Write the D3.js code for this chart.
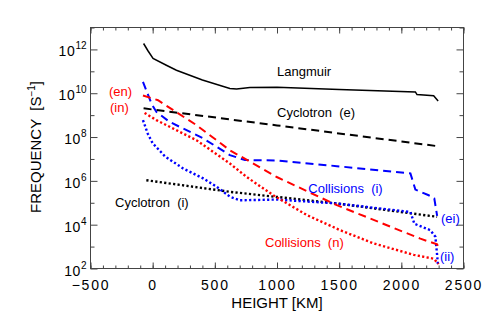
<!DOCTYPE html>
<html>
<head>
<meta charset="utf-8">
<script src="https://cdn.jsdelivr.net/npm/d3@7"></script>
<style>
body { margin: 0; background: #fff; }
svg { display: block; font-family: "Liberation Sans", Arial, sans-serif; }
.axis path { display: none; }
.axis line { stroke: #444; }
</style>
</head>
<body>
<svg id="chart" width="491" height="326"></svg>
<script>
// height [km], frequency [s^-1]
const heightMajor = [-500, 0, 500, 1000, 1500, 2000, 2500];
const heightMinor = d3.range(-500, 2501, 100);
const freqMajor = [1e2, 1e4, 1e6, 1e8, 1e10, 1e12];
const freqMinor = [1e3, 1e5, 1e7, 1e9, 1e11, 1e13];

const langmuir = [[-73, 1.86e12], [-38, 8.7e11], [3, 3.9e11], [110, 1.9e11], [191, 1.12e11],
  [400, 4.0e10], [621, 1.66e10], [675, 1.55e10], [782, 1.82e10], [1000, 1.86e10],
  [1500, 1.48e10], [2113, 1.15e10], [2126, 8.7e9], [2260, 7.6e9], [2296, 4.4e9]];
const cyclotronE = [[-73, 2.04e9], [1000, 3.4e8], [2296, 3.8e7]];
const cyclotronI = [[-51, 1.07e6], [621, 3.16e5], [1481, 9.3e4], [2288, 2.29e4]];
const collEN = [[-78, 7.9e9], [43, 4.8e9], [83, 3.4e9], [352, 3.5e8], [621, 2.5e7],
  [998, 1.5e6], [1481, 7.8e4], [2153, 2.3e3], [2288, 1.26e3], [2300, 9.0e2]];
const collIN = [[-65, 1.26e9], [30, 5.9e8], [352, 7.2e7], [621, 6.2e6], [756, 1.5e6],
  [970, 2.2e5], [1240, 2.75e4], [1508, 5.6e3], [1777, 1.4e3], [2100, 4.2e2],
  [2260, 2.8e2], [2300, 1.6e2]];
const collEI = [[-78, 3.3e10], [-10, 3.4e9], [30, 1.4e9], [137, 4.9e8], [406, 8.7e7],
  [621, 1.5e7], [742, 8.9e6], [1000, 8.5e6], [1481, 4.7e6], [2073, 2.2e6],
  [2113, 4.0e5], [2220, 2.2e5], [2265, 1.6e5], [2288, 2.5e4]];
const collII = [[-78, 5.9e8], [-40, 1.45e8], [0, 5.2e7], [100, 1.3e7], [245, 3.7e6],
  [406, 1.3e6], [514, 5.4e5], [621, 1.9e5], [702, 1.3e5], [998, 1.4e5], [1481, 9.3e4],
  [2073, 3.8e4], [2105, 1.1e4], [2234, 5.6e3], [2274, 2.8e3], [2288, 4.0e2], [2295, 1.4e2]];

const svg = d3.select('#chart');
const plotLeft = 90.5, plotRight = 463.5, plotTop = 27.5, plotBottom = 268.5;

const x = d3.scaleLinear().domain([-500, 2500]).range([plotLeft, plotRight]);
const y = d3.scaleLog().domain([1e2, 1e13]).range([plotBottom, plotTop]);

// frame
svg.append('rect')
    .attr('x', plotLeft).attr('y', plotTop)
    .attr('width', plotRight - plotLeft).attr('height', plotBottom - plotTop)
    .attr('fill', 'none').attr('stroke', '#444');

// bottom axis with labels
const xAxis = svg.append('g').attr('class', 'axis')
    .attr('transform', `translate(0,${plotBottom})`)
    .call(d3.axisBottom(x).tickValues(heightMajor).tickFormat(d3.format('d'))
        .tickSize(-6).tickSizeOuter(0).tickPadding(12));
xAxis.selectAll('text')
    .attr('fill', '#000')
    .style('font-size', '14px')
    .style('letter-spacing', '1.8px');

svg.append('g').attr('class', 'axis')
    .attr('transform', `translate(0,${plotBottom})`)
    .call(d3.axisBottom(x).tickValues(heightMinor).tickSize(-3).tickSizeOuter(0).tickFormat(''));
svg.append('g').attr('class', 'axis')
    .attr('transform', `translate(0,${plotTop})`)
    .call(d3.axisTop(x).tickValues(heightMajor).tickSize(-6).tickSizeOuter(0).tickFormat(''));
svg.append('g').attr('class', 'axis')
    .attr('transform', `translate(0,${plotTop})`)
    .call(d3.axisTop(x).tickValues(heightMinor).tickSize(-3).tickSizeOuter(0).tickFormat(''));

// left axis with 10^n labels
const yAxis = svg.append('g').attr('class', 'axis')
    .attr('transform', `translate(${plotLeft},0)`)
    .call(d3.axisLeft(y).tickValues(freqMajor).tickSize(-7).tickSizeOuter(0).tickPadding(4));
yAxis.selectAll('.tick text')
    .text(null)
    .attr('fill', '#000')
    .attr('dy', 6.5)
    .each(function(d) {
        const t = d3.select(this);
        t.append('tspan').style('font-size', '14px').style('letter-spacing', '0.6px').text('10');
        t.append('tspan').style('font-size', '10px').attr('dy', -7).text(Math.round(Math.log10(d)));
    });

svg.append('g').attr('class', 'axis')
    .attr('transform', `translate(${plotLeft},0)`)
    .call(d3.axisLeft(y).tickValues(freqMinor).tickSize(-4).tickSizeOuter(0).tickFormat(''));
svg.append('g').attr('class', 'axis')
    .attr('transform', `translate(${plotRight},0)`)
    .call(d3.axisRight(y).tickValues(freqMajor).tickSize(-7).tickSizeOuter(0).tickFormat(''));
svg.append('g').attr('class', 'axis')
    .attr('transform', `translate(${plotRight},0)`)
    .call(d3.axisRight(y).tickValues(freqMinor).tickSize(-4).tickSizeOuter(0).tickFormat(''));

// axis titles
svg.append('text')
    .attr('x', (plotLeft + plotRight) / 2).attr('y', 308)
    .attr('text-anchor', 'middle')
    .style('font-size', '15px')
    .text('HEIGHT [KM]');

const yTitle = svg.append('text')
    .attr('transform', 'translate(41,147) rotate(-90)')
    .attr('text-anchor', 'middle')
    .style('font-size', '15px')
    .style('white-space', 'pre');
yTitle.append('tspan').text('FREQUENCY  [S');
yTitle.append('tspan').attr('dy', -6).style('font-size', '10px').text('\u22121');
yTitle.append('tspan').attr('dy', 6).text(']');

// curves
const line = d3.line().x(d => x(d[0])).y(d => y(d[1]));
const series = [
    { data: langmuir, color: '#000', dash: null, width: 1.5 },
    { data: cyclotronE, color: '#000', dash: '8,5', width: 2 },
    { data: cyclotronI, color: '#000', dash: '2.2,2.3', width: 2.4 },
    { data: collEI, color: '#0000ff', dash: '8,5', width: 2 },
    { data: collII, color: '#0000ff', dash: '2.2,2.3', width: 2.4 },
    { data: collEN, color: '#ff0000', dash: '8,5', width: 2 },
    { data: collIN, color: '#ff0000', dash: '2.2,2.3', width: 2.4 }
];

svg.append('g').selectAll('path')
    .data(series)
    .join('path')
    .attr('d', s => line(s.data))
    .attr('fill', 'none')
    .attr('stroke', s => s.color)
    .attr('stroke-width', s => s.width)
    .attr('stroke-dasharray', s => s.dash);

// curve labels
const labels = [
    { text: 'Langmuir', px: 277, py: 76, color: '#000' },
    { text: 'Cyclotron  (e)', px: 277, py: 116.5, color: '#000' },
    { text: 'Cyclotron  (i)', px: 115, py: 207.3, color: '#000' },
    { text: '(en)', px: 109, py: 96.3, color: '#ff0000' },
    { text: '(in)', px: 110, py: 112.3, color: '#ff0000' },
    { text: 'Collisions  (i)', px: 308.3, py: 193, color: '#0000ff' },
    { text: 'Collisions  (n)', px: 265, py: 246.7, color: '#ff0000' },
    { text: '(ei)', px: 441, py: 222.7, color: '#0000ff' },
    { text: '(ii)', px: 440, py: 261, color: '#0000ff' }
];

svg.append('g').selectAll('text')
    .data(labels)
    .join('text')
    .attr('x', d => d.px)
    .attr('y', d => d.py)
    .attr('fill', d => d.color)
    .style('font-size', '13px')
    .style('white-space', 'pre')
    .text(d => d.text);
</script>
</body>
</html>
